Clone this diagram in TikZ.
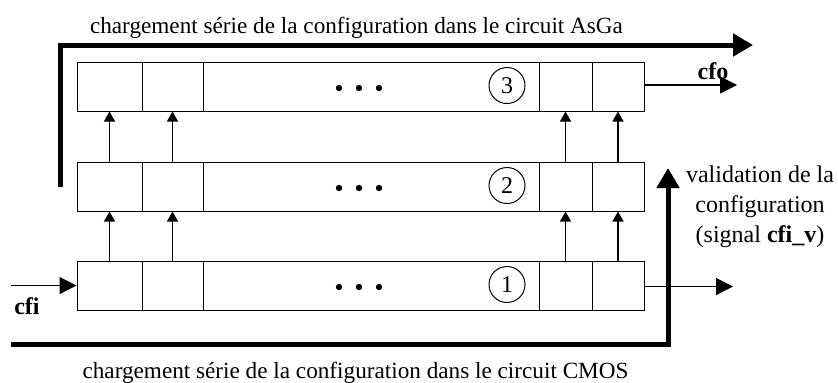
\documentclass[tikz,border=0pt]{standalone}
\usepackage{fontspec}
\setmainfont{Liberation Serif}
\usetikzlibrary{arrows.meta}

\tikzset{
  cell/.style={draw, line width=0.5pt, inner sep=0pt, minimum height=24.5pt},
  num/.style={draw, circle, line width=0.5pt, inner sep=0pt, minimum size=18pt, font=\fontsize{12}{14}\selectfont},
  lbl/.style={font=\fontsize{12}{15}\selectfont, inner sep=0pt},
  title/.style={font=\fontsize{11.6}{14}\selectfont, inner sep=0pt, anchor=base},
  link/.style={line width=0.6pt, -{Triangle[length=5pt,width=5.5pt]}},
  sig/.style={line width=0.6pt, -{Triangle[length=8.5pt,width=8.5pt]}},
  bus/.style={line width=2.5pt, -{Triangle[length=10pt,width=11pt]}}
}

\begin{document}
\begin{tikzpicture}[x=0.5pt,y=-0.5pt]
\useasboundingbox (0,0) rectangle (838,382);

% the three registers
\foreach \r/\y in {1/285.5, 2/186.5, 3/86.5} {
  \node[cell, minimum width=32.5pt] (r\r a) at (109.5,\y) {};
  \node[cell, minimum width=30.5pt] (r\r b) at (172.5,\y) {};
  \node[cell, minimum width=168pt] (r\r m) at (371,\y) {};
  \node[cell, minimum width=26.5pt] (r\r c) at (565.5,\y) {};
  \node[cell, minimum width=26pt] (r\r d) at (618,\y) {};
  \node[num] (n\r) at (507,\y-1) {\r};
  \foreach \d in {339,359,379}
    \fill (\d,\y+1.5) circle (1.6pt);
}

% transfers between registers
\foreach \l/\u in {1/2, 2/3} {
  \foreach \c in {a,b,c,d}
    \draw[link] (r\l\c.north) -- (r\u\c.south);
}

% serial input and outputs
\coordinate (cfiin) at (11,285.5);
\draw[sig] (cfiin) -- (r1a.west);
\node[lbl, font=\fontsize{12}{15}\selectfont\bfseries] (cfi) at (27,306) {cfi};

\coordinate (out1) at (733,286.5);
\draw[sig] (r1d.east |- out1) -- (out1);

\coordinate (cfoout) at (737,85);
\draw[sig] (r3d.east |- cfoout) -- (cfoout);
\node[lbl, font=\fontsize{12}{15}\selectfont\bfseries] (cfo) at (713,71) {cfo};

% loading paths
\coordinate (asga0) at (60,187);
\coordinate (asga1) at (60,45);
\coordinate (asga2) at (753,45);
\draw[bus] (asga0) -- (asga1) -- (asga2);
\node[title] (asga) at (356.5,33) {chargement série de la configuration dans le circuit AsGa};

\coordinate (cmos0) at (11,344);
\coordinate (cmos1) at (668,344);
\coordinate (cmos2) at (668,168);
\draw[bus] (cmos0) -- (cmos1) -- (cmos2);
\node[title] (cmos) at (355.5,378) {chargement série de la configuration dans le circuit CMOS};

\node[lbl, align=center] (valid) at (760,207) {validation de la\\configuration\\(signal \textbf{cfi\_v})};

\end{tikzpicture}
\end{document}
